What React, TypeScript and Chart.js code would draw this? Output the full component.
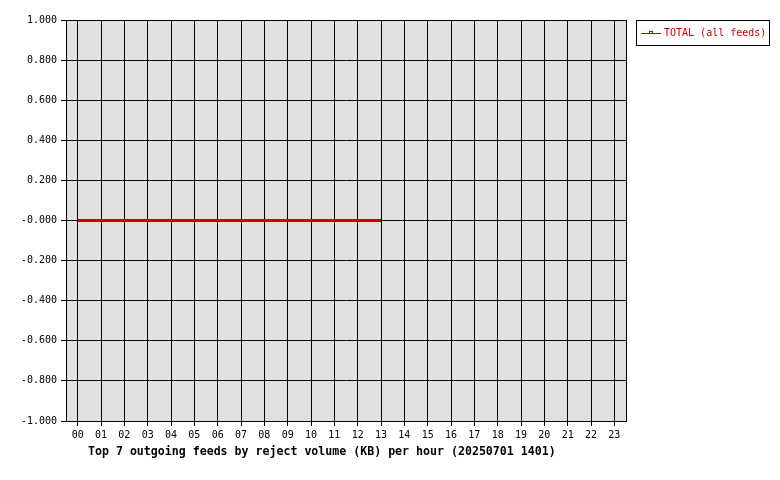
import React, { useEffect, useRef } from "react";
import { Chart, registerables } from "chart.js";

Chart.register(...registerables);

const hours = [
  "00", "01", "02", "03", "04", "05", "06", "07", "08", "09", "10", "11",
  "12", "13", "14", "15", "16", "17", "18", "19", "20", "21", "22", "23",
];
const totalKB: (number | null)[] = [
  0, 0, 0, 0, 0, 0, 0, 0, 0, 0, 0, 0, 0, 0,
  null, null, null, null, null, null, null, null, null, null,
];
const seriesLabel = "TOTAL (all feeds)";
const chartTitle =
  "Top 7 outgoing feeds by reject volume (KB) per hour (20250701 1401)";
const yMin = -1;
const yMax = 1;
const yStep = 0.2;

const FONT = '"DejaVu Sans Mono", "Liberation Mono", monospace';
const RED = "#cc0000";

const decorations = {
  id: "decorations",
  beforeDraw(chart: any) {
    const { ctx, chartArea: a } = chart;
    ctx.save();
    ctx.fillStyle = "#ffffff";
    ctx.fillRect(0, 0, chart.width, chart.height);
    ctx.fillStyle = "#e0e0e0";
    ctx.fillRect(a.left, a.top, a.right - a.left, a.bottom - a.top);
    ctx.restore();
  },
  afterDraw(chart: any) {
    const { ctx, chartArea: a } = chart;
    ctx.save();
    // plot border
    ctx.strokeStyle = "#000000";
    ctx.lineWidth = 1;
    ctx.strokeRect(a.left + 0.5, a.top + 0.5, a.right - a.left, a.bottom - a.top);

    // legend
    const ds = chart.data.datasets[0];
    const lx = a.right + 10;
    const ly = a.top;
    ctx.fillStyle = "#ffffff";
    ctx.fillRect(lx, ly, 133, 25);
    ctx.strokeStyle = "#000000";
    ctx.strokeRect(lx + 0.5, ly + 0.5, 133, 25);
    ctx.strokeStyle = ds.borderColor;
    ctx.beginPath();
    ctx.moveTo(lx + 5, ly + 13.5);
    ctx.lineTo(lx + 25, ly + 13.5);
    ctx.stroke();
    ctx.strokeRect(lx + 13.5, ly + 11.5, 3, 2);
    ctx.fillStyle = ds.borderColor;
    ctx.font = "10px " + FONT;
    ctx.textBaseline = "middle";
    ctx.textAlign = "left";
    ctx.fillText(ds.label, lx + 28, ly + 13.5);

    // title
    ctx.fillStyle = "#000000";
    ctx.font = "bold 11.6px " + FONT;
    ctx.textBaseline = "middle";
    ctx.fillText(chartTitle, a.left + 22, a.bottom + 31);
    ctx.restore();
  },
};

export default function App() {
  const ref = useRef<HTMLCanvasElement | null>(null);

  useEffect(() => {
    document.body.style.margin = "0";
    const canvas = ref.current;
    if (!canvas) return;
    const chart = new Chart(canvas, {
      type: "line",
      data: {
        labels: hours,
        datasets: [
          {
            label: seriesLabel,
            data: totalKB,
            borderColor: RED,
            backgroundColor: RED,
            borderWidth: 3,
            pointRadius: 0,
            spanGaps: false,
          },
        ],
      },
      options: {
        animation: false,
        responsive: false,
        devicePixelRatio: 1,
        layout: { padding: { top: 20, right: 154, left: 0, bottom: 0 } },
        plugins: {
          legend: { display: false },
          tooltip: { enabled: false },
          title: { display: false },
        },
        scales: {
          x: {
            type: "category",
            offset: true,
            grid: {
              offset: false,
              color: "#000000",
              lineWidth: 1,
              drawTicks: true,
              tickLength: 5,
              tickColor: "#000000",
            },
            border: { display: true, color: "#000000" },
            ticks: {
              color: "#000000",
              font: { family: FONT, size: 10 },
              padding: 3,
              maxRotation: 0,
              autoSkip: false,
            },
            afterFit(scale: any) {
              scale.height = 59;
            },
          },
          y: {
            min: yMin,
            max: yMax,
            grid: {
              color: "#000000",
              lineWidth: 1,
              drawTicks: true,
              tickLength: 5,
              tickColor: "#000000",
            },
            border: { display: true, color: "#000000" },
            ticks: {
              stepSize: yStep,
              color: "#000000",
              font: { family: FONT, size: 10 },
              padding: 4,
              callback: (v: any) => {
                const n = Number(v);
                if (Math.abs(n) < 1e-9) return "-0.000";
                return n.toFixed(3);
              },
            },
            afterFit(scale: any) {
              scale.width = 66;
            },
          },
        },
      },
      plugins: [decorations],
    });
    return () => chart.destroy();
  }, []);

  return (
    <div style={{ position: "fixed", left: 0, top: 0, width: 780, height: 480, background: "#fff" }}>
      <canvas ref={ref} width={780} height={480} style={{ width: 780, height: 480, display: "block" }} />
    </div>
  );
}
